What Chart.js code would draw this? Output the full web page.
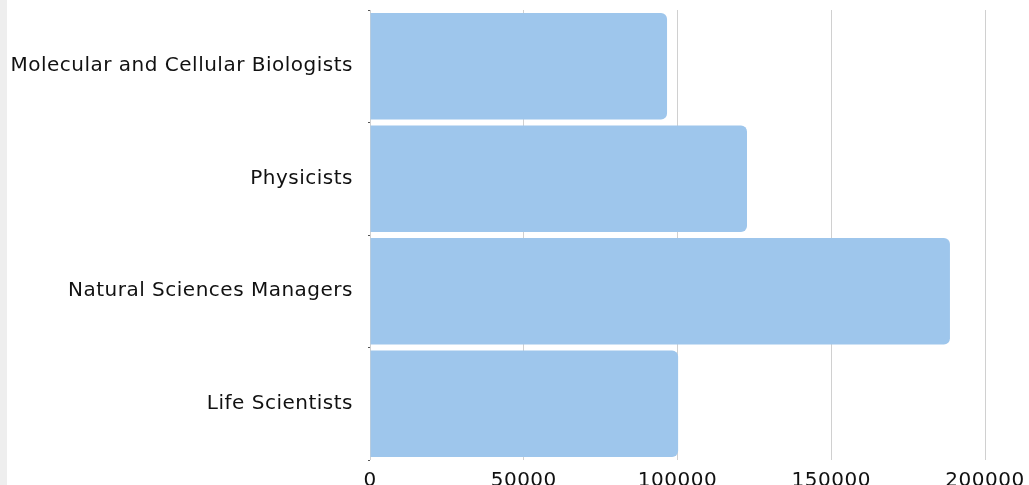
<!DOCTYPE html>
<html>
<head>
<meta charset="utf-8">
<script src="https://cdn.jsdelivr.net/npm/chart.js@4"></script>
<style>
  html, body { margin: 0; padding: 0; background: #fff; }
  #wrap { position: relative; width: 1029px; height: 485px; }
  #strip { position: absolute; left: 0; top: 0; width: 7px; height: 485px; background: #eeeeee; }
  canvas { position: absolute; left: 0; top: 0; }
</style>
</head>
<body>
<div id="wrap">
  <div id="strip"></div>
  <canvas id="myChart" width="1029" height="485"></canvas>
</div>
<script>
const categories = ['Molecular and Cellular Biologists', 'Physicists', 'Natural Sciences Managers', 'Life Scientists'];
const salaries = [96600, 122600, 188600, 100200];
const xTicks = [0, 50000, 100000, 150000, 200000];

const data = {
  labels: categories,
  datasets: [{
    label: 'Salary',
    data: salaries,
    backgroundColor: '#9ec6ec',
    borderWidth: 0,
    borderRadius: 6,
    borderSkipped: 'start',
    barPercentage: 0.947,
    categoryPercentage: 1
  }]
};

const labelFont = { family: 'DejaVu Sans', size: 20, weight: 'normal' };

// wider letters, closer to the original font
const spacing = {
  id: 'spacing',
  beforeUpdate(chart) { chart.ctx.letterSpacing = '0.5px'; },
  beforeDraw(chart) { chart.ctx.letterSpacing = '0.5px'; }
};

const config = {
  type: 'bar',
  data,
  options: {
    indexAxis: 'y',
    responsive: false,
    animation: false,
    layout: { padding: { top: 10, right: 44, left: 0, bottom: 0 } },
    plugins: { legend: { display: false }, tooltip: { enabled: false } },
    scales: {
      x: {
        min: 0,
        max: 200000,
        afterBuildTicks: (axis) => { axis.ticks = xTicks.map(v => ({ value: v })); },
        afterFit: (axis) => { axis.height = 25; axis.paddingLeft = 0; axis.paddingRight = 0; },
        border: { display: false },
        grid: { color: '#d0d0d0', lineWidth: 1, drawTicks: false },
        ticks: {
          color: '#111',
          padding: 9,
          font: labelFont,
          callback: (v) => String(v)
        }
      },
      y: {
        afterFit: (axis) => { axis.width = 370; axis.paddingTop = 0; axis.paddingBottom = 0; },
        border: { display: false },
        grid: { drawOnChartArea: false, drawTicks: true, tickLength: 2, color: '#555' },
        ticks: {
          color: '#111',
          padding: 15,
          font: labelFont
        }
      }
    }
  },
  plugins: [spacing]
};

const myChart = new Chart(document.getElementById('myChart'), config);
</script>
</body>
</html>
